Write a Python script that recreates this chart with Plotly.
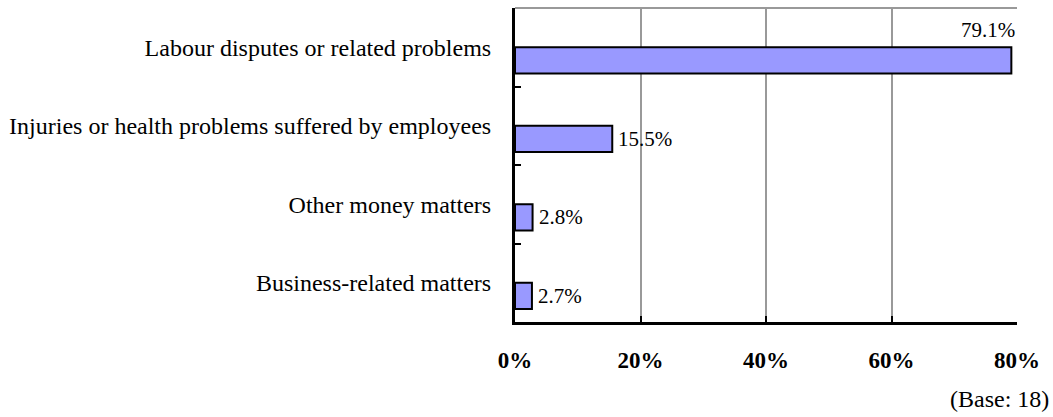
import plotly.graph_objects as go

# Categories listed top to bottom
categories = [
    "Labour disputes or related problems",
    "Injuries or health problems suffered by employees",
    "Other money matters",
    "Business-related matters",
]
shares = [79.1, 15.5, 2.8, 2.7]
tick_values = [0, 20, 40, 60, 80]
tick_labels = ["0%", "20%", "40%", "60%", "80%"]
base_note = "(Base: 18)"

SERIF = "Liberation Serif, Times New Roman, serif"
BAR_W = 0.335

fig = go.Figure()
fig.add_trace(go.Bar(
    x=shares,
    y=categories,
    orientation="h",
    width=BAR_W,
    offset=0,
    marker=dict(color="#9999FF", line=dict(color="black", width=2)),
    hoverinfo="skip",
))

# Value labels: the longest bar gets its label above its end, the rest to the right
annotations = []
for i, v in enumerate(shares):
    label = f"{v:.1f}%"
    if v > 60:
        annotations.append(dict(
            x=v, y=i - 0.22, xref="x", yref="y", text=label,
            showarrow=False, xanchor="right", yanchor="middle", xshift=6,
            font=dict(family=SERIF, size=21, color="black"),
        ))
    else:
        annotations.append(dict(
            x=v, y=i + BAR_W / 2, xref="x", yref="y", text=label,
            showarrow=False, xanchor="left", yanchor="middle", xshift=4,
            font=dict(family=SERIF, size=21, color="black"),
        ))

annotations.append(dict(
    x=1.068, y=-0.245, xref="paper", yref="paper", text=base_note,
    showarrow=False, xanchor="right", yanchor="middle",
    font=dict(family=SERIF, size=24, color="black"),
))

fig.update_layout(
    width=1053,
    height=417,
    margin=dict(l=515, r=36, t=8, b=95),
    paper_bgcolor="white",
    plot_bgcolor="white",
    showlegend=False,
    annotations=annotations,
    shapes=[dict(
        type="line", xref="paper", yref="paper",
        x0=0, x1=1, y0=1, y1=1,
        line=dict(color="#999999", width=2),
    )],
    xaxis=dict(
        range=[0, 80],
        tickvals=tick_values,
        ticktext=tick_labels,
        showgrid=True,
        gridcolor="#999999",
        gridwidth=2,
        zeroline=False,
        showline=True,
        linecolor="black",
        linewidth=3,
        ticks="inside",
        ticklen=6,
        tickwidth=2,
        tickcolor="black",
        ticklabelstandoff=15,
        tickfont=dict(family=SERIF, size=23, color="black", weight="bold"),
        fixedrange=True,
    ),
    yaxis=dict(
        type="category",
        categoryorder="array",
        categoryarray=categories,
        autorange="reversed",
        showgrid=False,
        zeroline=False,
        showline=True,
        linecolor="black",
        linewidth=3,
        ticks="inside",
        tickson="boundaries",
        ticklen=6,
        tickwidth=2,
        tickcolor="black",
        ticklabelstandoff=16,
        tickfont=dict(family=SERIF, size=24, color="black"),
        fixedrange=True,
    ),
)

fig.write_html("out.html")
